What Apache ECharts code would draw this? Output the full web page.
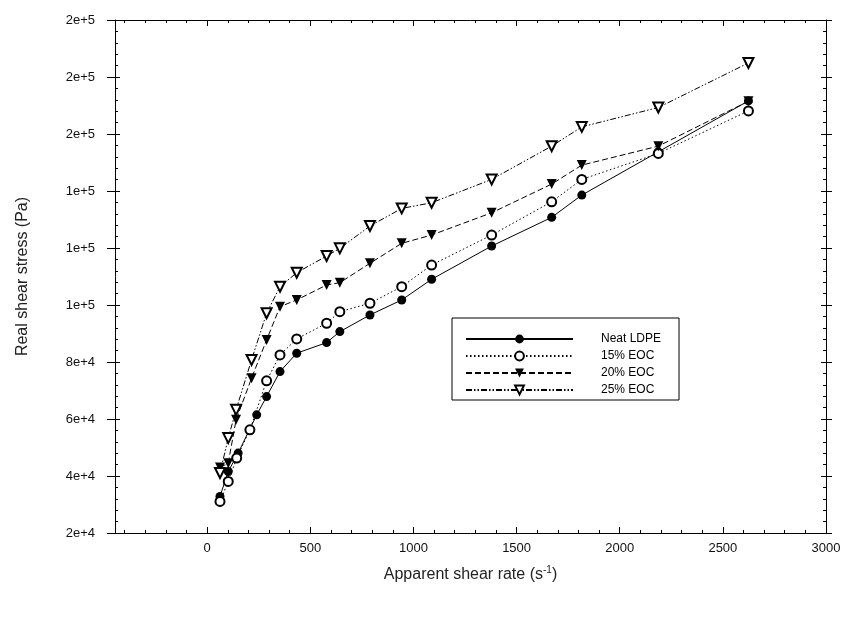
<!DOCTYPE html>
<html>
<head>
<meta charset="utf-8">
<script src="https://cdn.jsdelivr.net/npm/echarts@6/dist/echarts.min.js"></script>
<style>html,body{margin:0;padding:0;background:#fff}#c{width:848px;height:617px}</style>
</head>
<body>
<div id="c"></div>
<script>
// ---- data ----
const seriesNames = ['Neat LDPE', '15% EOC', '20% EOC', '25% EOC'];
const neatX = [62, 102, 150, 240, 288, 353, 434, 579, 643, 789, 943, 1088, 1379, 1670, 1816, 2187, 2624];
const neatY = [32830, 41590, 48040, 61460, 67870, 76640, 83090, 86800, 90660, 96510, 101770, 109020, 120690, 130750, 138560, 153740, 171610];
const eoc15X = [62, 102, 143, 207, 288, 353, 434, 579, 643, 789, 943, 1088, 1379, 1670, 1816, 2187, 2624];
const eoc15Y = [31080, 38080, 46290, 56200, 73380, 82490, 88100, 93600, 97660, 100610, 106430, 114030, 124550, 136220, 144070, 153180, 168110];
const eoc20X = [62, 102, 140, 215, 288, 353, 434, 579, 643, 789, 943, 1088, 1379, 1670, 1816, 2187, 2624];
const eoc20Y = [43000, 44500, 59710, 74320, 87750, 99420, 101770, 107020, 107830, 114630, 121640, 124550, 132360, 142420, 149080, 155740, 171500];
const eoc25X = [62, 102, 140, 215, 288, 353, 434, 579, 643, 789, 943, 1088, 1379, 1670, 1816, 2187, 2624];
const eoc25Y = [41030, 53300, 63210, 80740, 97100, 106430, 111330, 117190, 119880, 127700, 133900, 135870, 144070, 155740, 162500, 169300, 184930];
const xTickLabels = [0, 500, 1000, 1500, 2000, 2500, 3000];
const xMinorTicks = [-400,-300,-200,-100,0,100,200,300,400,500,600,700,800,900,1000,1100,1200,1300,1400,1500,1600,1700,1800,1900,2000,2100,2200,2300,2400,2500,2600,2700,2800,2900,3000];
const xMin = -447, xMax = 3000;
const yMin = 20000, yMax = 200000, yStep = 20000;

const zip = (xs, ys) => xs.map((x, i) => [x, ys[i]]);

const black = '#000';
const baseX = {type: 'value', gridIndex: 0, min: xMin, max: xMax, splitLine: {show: false}};
const baseY = {type: 'value', gridIndex: 0, min: yMin, max: yMax, interval: yStep, splitLine: {show: false}};
const axisLine = {show: true, onZero: false, lineStyle: {color: black, width: 1}};
const noLine = {show: false, onZero: false};

const chart = echarts.init(document.getElementById('c'), null, {renderer: 'canvas'});
chart.setOption({
  backgroundColor: '#fff',
  animation: false,
  textStyle: {fontFamily: 'Liberation Sans, Arial, sans-serif'},
  grid: {left: 115, right: 22, top: 20, bottom: 84, containLabel: false},
  xAxis: [
    Object.assign({}, baseX, {
      position: 'bottom', axisLine: axisLine,
      axisTick: {show: true, inside: true, length: 6, customValues: xTickLabels, lineStyle: {color: black}},
      axisLabel: {show: true, customValues: xTickLabels, margin: 9, color: '#111', fontSize: 13,
                  formatter: v => String(v),
                  fontFamily: 'Liberation Sans Narrow, Liberation Sans, Arial'},
      name: '{a|Apparent shear rate (s}{b|-1}{a|)}', nameLocation: 'middle', nameGap: 32,
      nameTextStyle: {rich: {a: {fontSize: 16, color: '#222', fontFamily: 'Liberation Sans, Arial'},
                             b: {fontSize: 10, color: '#222', padding: [0, 0, 9, 0], fontFamily: 'Liberation Sans, Arial'}}}
    }),
    Object.assign({}, baseX, {
      position: 'bottom', axisLine: noLine,
      axisTick: {show: true, inside: true, length: 3, customValues: xMinorTicks, lineStyle: {color: black}},
      axisLabel: {show: false}
    }),
    Object.assign({}, baseX, {
      position: 'top', axisLine: axisLine,
      axisTick: {show: true, inside: true, length: 3, customValues: xMinorTicks, lineStyle: {color: black}},
      axisLabel: {show: false}
    }),
    Object.assign({}, baseX, {
      position: 'top', axisLine: noLine,
      axisTick: {show: true, inside: true, length: 6, customValues: xTickLabels, lineStyle: {color: black}},
      axisLabel: {show: false}
    })
  ],
  yAxis: [
    Object.assign({}, baseY, {
      position: 'left', axisLine: axisLine,
      axisTick: {show: true, inside: false, length: 8, lineStyle: {color: black}},
      axisLabel: {show: true, margin: 20, color: '#111', fontSize: 13,
                  formatter: v => v.toExponential(0)},
      name: 'Real shear stress (Pa)', nameLocation: 'middle', nameGap: 84, nameRotate: 90,
      nameTextStyle: {fontSize: 16, color: '#222'}
    }),
    Object.assign({}, baseY, {
      position: 'left', axisLine: noLine,
      axisTick: {show: true, inside: true, length: 5, lineStyle: {color: black}},
      minorTick: {show: true, splitNumber: 5, length: 3, lineStyle: {color: black}},
      axisLabel: {show: false}
    }),
    Object.assign({}, baseY, {
      position: 'right', axisLine: axisLine,
      axisTick: {show: true, inside: true, length: 5, lineStyle: {color: black}},
      minorTick: {show: true, splitNumber: 5, length: 3, lineStyle: {color: black}},
      axisLabel: {show: false}
    }),
    Object.assign({}, baseY, {
      position: 'right', axisLine: noLine,
      axisTick: {show: true, inside: false, length: 6, lineStyle: {color: black}},
      axisLabel: {show: false}
    })
  ],
  legend: {
    orient: 'vertical', left: 452, top: 318,
    itemWidth: 107, itemHeight: 11, itemGap: 5,
    padding: [15, 18, 4, 13],
    borderColor: black, borderWidth: 1, backgroundColor: '#fff',
    textStyle: {fontSize: 12, color: '#000', padding: [0, 0, 0, 23], fontFamily: 'Liberation Sans, Arial'},
    data: seriesNames
  },
  series: [
    {name: seriesNames[0], type: 'line', data: zip(neatX, neatY), symbol: 'circle', symbolSize: 9,
     itemStyle: {color: black}, lineStyle: {color: black, width: 1, type: 'solid'}},
    {name: seriesNames[1], type: 'line', data: zip(eoc15X, eoc15Y), symbol: 'emptyCircle', symbolSize: 9,
     itemStyle: {color: black, borderColor: black, borderWidth: 1.5}, lineStyle: {color: black, width: 1, type: [1.5, 2.5]}},
    {name: seriesNames[2], type: 'line', data: zip(eoc20X, eoc20Y), symbol: 'triangle', symbolRotate: 180, symbolSize: 10,
     itemStyle: {color: black}, lineStyle: {color: black, width: 1, type: [6, 3]}},
    {name: seriesNames[3], type: 'line', data: zip(eoc25X, eoc25Y), symbol: 'emptyTriangle', symbolRotate: 180, symbolSize: 10,
     itemStyle: {color: black, borderColor: black, borderWidth: 1.5}, lineStyle: {color: black, width: 1, type: [6, 2, 1.5, 2, 1.5, 2]}}
  ]
});
</script>
</body>
</html>
